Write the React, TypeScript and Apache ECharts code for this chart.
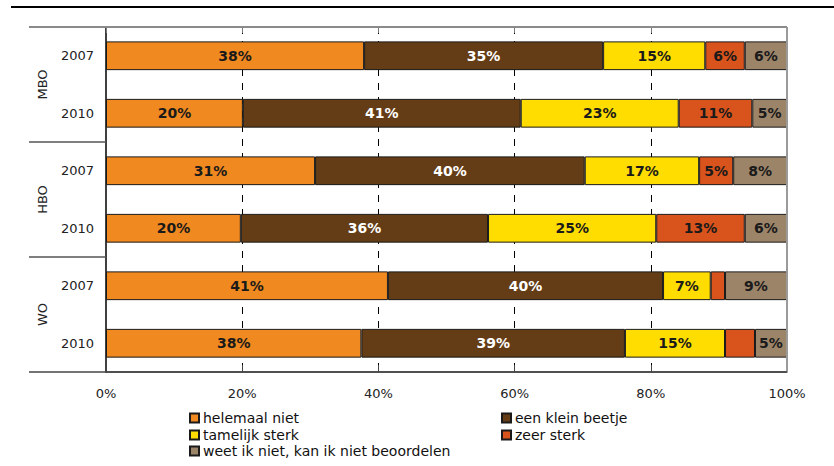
import React, { useEffect, useRef } from 'react';
import * as echarts from 'echarts';

const groups = ['MBO', 'HBO', 'WO'];
const categories = ['MBO 2007', 'MBO 2010', 'HBO 2007', 'HBO 2010', 'WO 2007', 'WO 2010'];
const seriesNames = [
  'helemaal niet',
  'een klein beetje',
  'tamelijk sterk',
  'zeer sterk',
  'weet ik niet, kan ik niet beoordelen',
];
const helemaalNiet = [37.9, 20.1, 30.7, 19.8, 41.4, 37.5];
const eenKleinBeetje = [35.1, 40.8, 39.6, 36.3, 40.4, 38.7];
const tamelijkSterk = [15.0, 23.2, 16.8, 24.7, 7.0, 14.7];
const zeerSterk = [5.8, 10.8, 5.0, 13.0, 2.1, 4.4];
const weetNiet = [6.2, 5.1, 7.9, 6.2, 9.1, 4.7];
const seriesValues = [helemaalNiet, eenKleinBeetje, tamelijkSterk, zeerSterk, weetNiet];

const colors = ['#F0891F', '#643D16', '#FFDD00', '#D9531C', '#9C8469'];
const labelColors = ['#1a1a1a', '#ffffff', '#1a1a1a', '#1a1a1a', '#1a1a1a'];
const legendPos = [
  { left: 189, top: 411 },
  { left: 501, top: 411 },
  { left: 189, top: 428 },
  { left: 501, top: 428 },
  { left: 189, top: 444 },
];

const FONT = 'DejaVu Sans';
const W = 834;
const H = 466;
const GL = 106;
const GR = 787;
const GT = 27;
const GB = 372;

export default function App() {
  const ref = useRef<HTMLDivElement>(null);
  useEffect(() => {
    if (!ref.current) return;
    const chart = echarts.init(ref.current, undefined, { renderer: 'svg', width: W, height: H });
    const band = (GB - GT) / categories.length;
    const graphic: any[] = [
      { type: 'line', z: 10, shape: { x1: 11, y1: 7, x2: W, y2: 7 }, style: { stroke: '#000', lineWidth: 2 } },
      { type: 'line', z: 10, shape: { x1: 29, y1: GT, x2: GR, y2: GT }, style: { stroke: '#8a8a8a', lineWidth: 2 } },
      { type: 'line', z: 10, shape: { x1: GR, y1: GT, x2: GR, y2: GB }, style: { stroke: '#9a9a9a', lineWidth: 2 } },
      { type: 'line', z: 10, shape: { x1: 29, y1: GB, x2: GR, y2: GB }, style: { stroke: '#444', lineWidth: 1.5 } },
    ];
    groups.forEach((g, i) => {
      if (i > 0) {
        const y = GT + band * 2 * i;
        graphic.push({ type: 'line', z: 10, shape: { x1: 29, y1: y, x2: GL, y2: y }, style: { stroke: '#555', lineWidth: 1.5 } });
      }
      graphic.push({
        type: 'text',
        x: 42,
        y: GT + band * (2 * i + 1),
        rotation: Math.PI / 2,
        style: { text: g, font: `13px "${FONT}"`, fill: '#222', align: 'center', verticalAlign: 'middle' },
      });
    });

    chart.setOption({
      animation: false,
      textStyle: { fontFamily: FONT },
      grid: { left: GL, right: W - GR, top: GT, bottom: H - GB, containLabel: false },
      legend: seriesNames.map((n, i) => ({
        data: [n],
        left: legendPos[i].left,
        top: legendPos[i].top,
        icon: 'rect',
        itemWidth: 9,
        itemHeight: 9,
        itemGap: 0,
        padding: 0,
        selectedMode: false,
        textStyle: { fontFamily: FONT, fontSize: 14, color: '#111', padding: [0, 0, 0, -1] },
      })),
      xAxis: [
        {
          type: 'value',
          min: 0,
          max: 100,
          interval: 20,
          position: 'bottom',
          axisLine: { show: true, lineStyle: { color: '#444', width: 1.5 } },
          axisTick: { show: true, inside: true, length: 7, lineStyle: { color: '#444' } },
          axisLabel: { formatter: '{value}%', fontSize: 13, color: '#222', margin: 15, fontFamily: FONT },
          splitLine: {
            show: true,
            showMinLine: false,
            showMaxLine: false,
            lineStyle: { color: '#000', type: [7, 7], width: 1 },
          },
        },
        {
          type: 'value',
          min: 0,
          max: 100,
          interval: 20,
          position: 'top',
          axisLine: { show: false },
          axisTick: { show: true, inside: true, length: 6, lineStyle: { color: '#777' } },
          axisLabel: { show: false },
          splitLine: { show: false },
        },
      ],
      yAxis: {
        type: 'category',
        inverse: true,
        data: categories,
        axisLine: { show: true, lineStyle: { color: '#000', width: 1.5 } },
        axisTick: { show: false },
        axisLabel: {
          formatter: (v: string) => v.split(' ')[1],
          fontSize: 13,
          color: '#222',
          margin: 12,
          fontFamily: FONT,
        },
        splitLine: { show: false },
      },
      series: seriesNames.map((n, i) => ({
        name: n,
        type: 'bar',
        stack: 'total',
        barWidth: '50%',
        xAxisIndex: 0,
        data: seriesValues[i],
        itemStyle: { color: colors[i], borderColor: '#1a1a1a', borderWidth: 1 },
        label: {
          show: true,
          position: 'inside',
          fontFamily: FONT,
          fontSize: 14,
          fontWeight: 'bold',
          color: labelColors[i],
          formatter: (p: any) => (p.value >= 4.5 ? `${Math.round(p.value)}%` : ''),
        },
      })),
      graphic,
    });
    return () => chart.dispose();
  }, []);
  return (
    <div
      ref={ref}
      style={{ position: 'fixed', left: 0, top: 0, width: W, height: H, background: '#fff' }}
    />
  );
}
